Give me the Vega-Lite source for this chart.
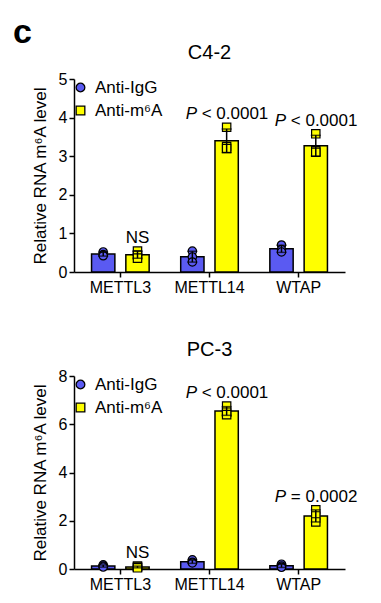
{
  "$schema": "https://vega.github.io/schema/vega-lite/v6.json",
  "background": "white",
  "padding": {"left": 13, "top": 16, "right": 5, "bottom": 5},
  "title": {"text": "c", "anchor": "start", "fontSize": 34, "fontWeight": "bold", "dx": -18, "offset": -7, "color": "black"},
  "datasets": {
    "replicates": [
      {"cell": "C4-2", "gene": "METTL3", "antibody": "Anti-IgG", "value": 0.52},
      {"cell": "C4-2", "gene": "METTL3", "antibody": "Anti-IgG", "value": 0.45},
      {"cell": "C4-2", "gene": "METTL3", "antibody": "Anti-IgG", "value": 0.42},
      {"cell": "C4-2", "gene": "METTL3", "antibody": "Anti-m⁶A", "value": 0.54},
      {"cell": "C4-2", "gene": "METTL3", "antibody": "Anti-m⁶A", "value": 0.44},
      {"cell": "C4-2", "gene": "METTL3", "antibody": "Anti-m⁶A", "value": 0.36},
      {"cell": "C4-2", "gene": "METTL14", "antibody": "Anti-IgG", "value": 0.54},
      {"cell": "C4-2", "gene": "METTL14", "antibody": "Anti-IgG", "value": 0.39},
      {"cell": "C4-2", "gene": "METTL14", "antibody": "Anti-IgG", "value": 0.26},
      {"cell": "C4-2", "gene": "METTL14", "antibody": "Anti-m⁶A", "value": 3.75},
      {"cell": "C4-2", "gene": "METTL14", "antibody": "Anti-m⁶A", "value": 3.25},
      {"cell": "C4-2", "gene": "METTL14", "antibody": "Anti-m⁶A", "value": 3.2},
      {"cell": "C4-2", "gene": "WTAP", "antibody": "Anti-IgG", "value": 0.7},
      {"cell": "C4-2", "gene": "WTAP", "antibody": "Anti-IgG", "value": 0.58},
      {"cell": "C4-2", "gene": "WTAP", "antibody": "Anti-IgG", "value": 0.52},
      {"cell": "C4-2", "gene": "WTAP", "antibody": "Anti-m⁶A", "value": 3.58},
      {"cell": "C4-2", "gene": "WTAP", "antibody": "Anti-m⁶A", "value": 3.14},
      {"cell": "C4-2", "gene": "WTAP", "antibody": "Anti-m⁶A", "value": 3.1},
      {"cell": "PC-3", "gene": "METTL3", "antibody": "Anti-IgG", "value": 0.17},
      {"cell": "PC-3", "gene": "METTL3", "antibody": "Anti-IgG", "value": 0.12},
      {"cell": "PC-3", "gene": "METTL3", "antibody": "Anti-IgG", "value": 0.08},
      {"cell": "PC-3", "gene": "METTL3", "antibody": "Anti-m⁶A", "value": 0.12},
      {"cell": "PC-3", "gene": "METTL3", "antibody": "Anti-m⁶A", "value": 0.08},
      {"cell": "PC-3", "gene": "METTL3", "antibody": "Anti-m⁶A", "value": 0.05},
      {"cell": "PC-3", "gene": "METTL14", "antibody": "Anti-IgG", "value": 0.38},
      {"cell": "PC-3", "gene": "METTL14", "antibody": "Anti-IgG", "value": 0.28},
      {"cell": "PC-3", "gene": "METTL14", "antibody": "Anti-IgG", "value": 0.25},
      {"cell": "PC-3", "gene": "METTL14", "antibody": "Anti-m⁶A", "value": 6.75},
      {"cell": "PC-3", "gene": "METTL14", "antibody": "Anti-m⁶A", "value": 6.5},
      {"cell": "PC-3", "gene": "METTL14", "antibody": "Anti-m⁶A", "value": 6.4},
      {"cell": "PC-3", "gene": "WTAP", "antibody": "Anti-IgG", "value": 0.2},
      {"cell": "PC-3", "gene": "WTAP", "antibody": "Anti-IgG", "value": 0.12},
      {"cell": "PC-3", "gene": "WTAP", "antibody": "Anti-IgG", "value": 0.07},
      {"cell": "PC-3", "gene": "WTAP", "antibody": "Anti-m⁶A", "value": 2.45},
      {"cell": "PC-3", "gene": "WTAP", "antibody": "Anti-m⁶A", "value": 2.2},
      {"cell": "PC-3", "gene": "WTAP", "antibody": "Anti-m⁶A", "value": 1.95}
    ],
    "significance_c42": [
      {"gene": "METTL3", "head": "", "tail": "NS"},
      {"gene": "METTL14", "head": "P", "tail": "< 0.0001"},
      {"gene": "WTAP", "head": "P", "tail": "< 0.0001"}
    ],
    "significance_pc3": [
      {"gene": "METTL3", "head": "", "tail": "NS"},
      {"gene": "METTL14", "head": "P", "tail": "< 0.0001"},
      {"gene": "WTAP", "head": "P", "tail": "= 0.0002"}
    ]
  },
  "spacing": 45,
  "resolve": {
    "scale": {"fill": "independent", "shape": "independent"},
    "legend": {"fill": "independent", "shape": "independent"}
  },
  "vconcat": [
    {
      "width": 271,
      "height": 193,
      "title": "C4-2",
      "data": {"name": "replicates"},
      "transform": [{"filter": "datum.cell == 'C4-2'"}],
      "encoding": {
        "x": {"field": "gene", "type": "nominal", "sort": ["METTL3", "METTL14", "WTAP"],
              "scale": {"paddingInner": 0.2, "paddingOuter": 0.12},
              "axis": {"title": null, "labelAngle": 0, "labelPadding": 2}},
        "xOffset": {"field": "antibody", "type": "nominal", "sort": ["Anti-IgG", "Anti-m⁶A"],
                    "scale": {"paddingInner": 0.32, "paddingOuter": 0.2}}
      },
      "layer": [
        {
          "mark": {"type": "bar", "stroke": "black", "strokeWidth": 1.5},
          "encoding": {
            "y": {"aggregate": "mean", "field": "value", "type": "quantitative",
                  "scale": {"domain": [0, 5], "nice": false},
                  "axis": {"title": "Relative RNA m⁶A level", "values": [0, 1, 2, 3, 4, 5], "labelOverlap": false, "titlePadding": 9, "labelPadding": 2}},
            "fill": {"field": "antibody", "type": "nominal",
                     "scale": {"domain": ["Anti-IgG", "Anti-m⁶A"], "range": ["#5a5af2", "#ffff00"]},
                     "legend": {"title": null, "orient": "none", "legendX": -2, "legendY": 0,
                                "encode": {"symbols": {"update": {"stroke": {"value": "black"}, "strokeWidth": {"value": 1.3}}}}}}
          }
        },
        {
          "mark": {"type": "point", "filled": true, "stroke": "black", "strokeWidth": 1.2, "size": 70, "opacity": 1},
          "encoding": {
            "y": {"field": "value", "type": "quantitative",
                  "axis": {"title": "Relative RNA m⁶A level", "values": [0, 1, 2, 3, 4, 5], "labelOverlap": false, "titlePadding": 9, "labelPadding": 2}},
            "shape": {"field": "antibody", "type": "nominal",
                      "scale": {"domain": ["Anti-IgG", "Anti-m⁶A"], "range": ["circle", "square"]},
                      "legend": {"title": null, "orient": "none", "legendX": -2, "legendY": 0,
                                 "encode": {"symbols": {"update": {"stroke": {"value": "black"}, "strokeWidth": {"value": 1.3}}}}}},
            "fill": {"field": "antibody", "type": "nominal",
                     "legend": {"title": null, "orient": "none", "legendX": -2, "legendY": 0,
                                "encode": {"symbols": {"update": {"stroke": {"value": "black"}, "strokeWidth": {"value": 1.3}}}}}}
          }
        },
        {
          "transform": [
            {"aggregate": [{"op": "mean", "field": "value", "as": "mean"}, {"op": "stdev", "field": "value", "as": "sd"}],
             "groupby": ["gene", "antibody"]},
            {"calculate": "datum.mean - datum.sd", "as": "lo"},
            {"calculate": "datum.mean + datum.sd", "as": "hi"}
          ],
          "layer": [
            {"mark": {"type": "rule", "color": "black", "strokeWidth": 1.5},
             "encoding": {"y": {"field": "lo", "type": "quantitative",
                                "axis": {"title": "Relative RNA m⁶A level", "values": [0, 1, 2, 3, 4, 5], "labelOverlap": false, "titlePadding": 9, "labelPadding": 2}},
                          "y2": {"field": "hi"}}},
            {"mark": {"type": "tick", "color": "black", "size": 10, "thickness": 1.5},
             "encoding": {"y": {"field": "lo", "type": "quantitative",
                                "axis": {"title": "Relative RNA m⁶A level", "values": [0, 1, 2, 3, 4, 5], "labelOverlap": false, "titlePadding": 9, "labelPadding": 2}}}},
            {"mark": {"type": "tick", "color": "black", "size": 10, "thickness": 1.5},
             "encoding": {"y": {"field": "hi", "type": "quantitative",
                                "axis": {"title": "Relative RNA m⁶A level", "values": [0, 1, 2, 3, 4, 5], "labelOverlap": false, "titlePadding": 9, "labelPadding": 2}}}}
          ]
        },
        {
          "transform": [
            {"filter": "datum.antibody == 'Anti-m⁶A'"},
            {"aggregate": [{"op": "max", "field": "value", "as": "top"}], "groupby": ["gene", "antibody"]},
            {"lookup": "gene", "from": {"data": {"name": "significance_c42"}, "key": "gene", "fields": ["head", "tail"]}}
          ],
          "encoding": {"y": {"field": "top", "type": "quantitative",
                             "axis": {"title": "Relative RNA m⁶A level", "values": [0, 1, 2, 3, 4, 5], "labelOverlap": false, "titlePadding": 9, "labelPadding": 2}}},
          "layer": [
            {"transform": [{"filter": "datum.head != ''"}],
             "mark": {"type": "text", "fontSize": 17, "fontStyle": "italic", "align": "left", "dx": -41, "dy": -13, "color": "black"},
             "encoding": {"text": {"field": "head"}}},
            {"transform": [{"filter": "datum.head != ''"}],
             "mark": {"type": "text", "fontSize": 17, "align": "left", "dx": -25, "dy": -13, "color": "black"},
             "encoding": {"text": {"field": "tail"}}},
            {"transform": [{"filter": "datum.head == ''"}],
             "mark": {"type": "text", "fontSize": 17, "align": "center", "dy": -13, "color": "black"},
             "encoding": {"text": {"field": "tail"}}}
          ]
        }
      ]
    },
    {
      "width": 271,
      "height": 193,
      "title": "PC-3",
      "data": {"name": "replicates"},
      "transform": [{"filter": "datum.cell == 'PC-3'"}],
      "encoding": {
        "x": {"field": "gene", "type": "nominal", "sort": ["METTL3", "METTL14", "WTAP"],
              "scale": {"paddingInner": 0.2, "paddingOuter": 0.12},
              "axis": {"title": null, "labelAngle": 0, "labelPadding": 2}},
        "xOffset": {"field": "antibody", "type": "nominal", "sort": ["Anti-IgG", "Anti-m⁶A"],
                    "scale": {"paddingInner": 0.32, "paddingOuter": 0.2}}
      },
      "layer": [
        {
          "mark": {"type": "bar", "stroke": "black", "strokeWidth": 1.5},
          "encoding": {
            "y": {"aggregate": "mean", "field": "value", "type": "quantitative",
                  "scale": {"domain": [0, 8], "nice": false},
                  "axis": {"title": "Relative RNA m⁶A level", "values": [0, 2, 4, 6, 8], "labelOverlap": false, "titlePadding": 9, "labelPadding": 2}},
            "fill": {"field": "antibody", "type": "nominal",
                     "scale": {"domain": ["Anti-IgG", "Anti-m⁶A"], "range": ["#5a5af2", "#ffff00"]},
                     "legend": {"title": null, "orient": "none", "legendX": -2, "legendY": 0,
                                "encode": {"symbols": {"update": {"stroke": {"value": "black"}, "strokeWidth": {"value": 1.3}}}}}}
          }
        },
        {
          "mark": {"type": "point", "filled": true, "stroke": "black", "strokeWidth": 1.2, "size": 70, "opacity": 1},
          "encoding": {
            "y": {"field": "value", "type": "quantitative",
                  "axis": {"title": "Relative RNA m⁶A level", "values": [0, 2, 4, 6, 8], "labelOverlap": false, "titlePadding": 9, "labelPadding": 2}},
            "shape": {"field": "antibody", "type": "nominal",
                      "scale": {"domain": ["Anti-IgG", "Anti-m⁶A"], "range": ["circle", "square"]},
                      "legend": {"title": null, "orient": "none", "legendX": -2, "legendY": 0,
                                 "encode": {"symbols": {"update": {"stroke": {"value": "black"}, "strokeWidth": {"value": 1.3}}}}}},
            "fill": {"field": "antibody", "type": "nominal",
                     "legend": {"title": null, "orient": "none", "legendX": -2, "legendY": 0,
                                "encode": {"symbols": {"update": {"stroke": {"value": "black"}, "strokeWidth": {"value": 1.3}}}}}}
          }
        },
        {
          "transform": [
            {"aggregate": [{"op": "mean", "field": "value", "as": "mean"}, {"op": "stdev", "field": "value", "as": "sd"}],
             "groupby": ["gene", "antibody"]},
            {"calculate": "datum.mean - datum.sd", "as": "lo"},
            {"calculate": "datum.mean + datum.sd", "as": "hi"}
          ],
          "layer": [
            {"mark": {"type": "rule", "color": "black", "strokeWidth": 1.5},
             "encoding": {"y": {"field": "lo", "type": "quantitative",
                                "axis": {"title": "Relative RNA m⁶A level", "values": [0, 2, 4, 6, 8], "labelOverlap": false, "titlePadding": 9, "labelPadding": 2}},
                          "y2": {"field": "hi"}}},
            {"mark": {"type": "tick", "color": "black", "size": 10, "thickness": 1.5},
             "encoding": {"y": {"field": "lo", "type": "quantitative",
                                "axis": {"title": "Relative RNA m⁶A level", "values": [0, 2, 4, 6, 8], "labelOverlap": false, "titlePadding": 9, "labelPadding": 2}}}},
            {"mark": {"type": "tick", "color": "black", "size": 10, "thickness": 1.5},
             "encoding": {"y": {"field": "hi", "type": "quantitative",
                                "axis": {"title": "Relative RNA m⁶A level", "values": [0, 2, 4, 6, 8], "labelOverlap": false, "titlePadding": 9, "labelPadding": 2}}}}
          ]
        },
        {
          "transform": [
            {"filter": "datum.antibody == 'Anti-m⁶A'"},
            {"aggregate": [{"op": "max", "field": "value", "as": "top"}], "groupby": ["gene", "antibody"]},
            {"lookup": "gene", "from": {"data": {"name": "significance_pc3"}, "key": "gene", "fields": ["head", "tail"]}}
          ],
          "encoding": {"y": {"field": "top", "type": "quantitative",
                             "axis": {"title": "Relative RNA m⁶A level", "values": [0, 2, 4, 6, 8], "labelOverlap": false, "titlePadding": 9, "labelPadding": 2}}},
          "layer": [
            {"transform": [{"filter": "datum.head != ''"}],
             "mark": {"type": "text", "fontSize": 17, "fontStyle": "italic", "align": "left", "dx": -41, "dy": -13, "color": "black"},
             "encoding": {"text": {"field": "head"}}},
            {"transform": [{"filter": "datum.head != ''"}],
             "mark": {"type": "text", "fontSize": 17, "align": "left", "dx": -25, "dy": -13, "color": "black"},
             "encoding": {"text": {"field": "tail"}}},
            {"transform": [{"filter": "datum.head == ''"}],
             "mark": {"type": "text", "fontSize": 17, "align": "center", "dy": -13, "color": "black"},
             "encoding": {"text": {"field": "tail"}}}
          ]
        }
      ]
    }
  ],
  "config": {
    "font": "Liberation Sans",
    "view": {"stroke": null},
    "axis": {"domainColor": "black", "domainWidth": 1.5, "tickColor": "black", "tickWidth": 1.5, "tickSize": 5,
             "labelColor": "black", "labelFontSize": 16, "titleColor": "black", "titleFontSize": 17,
             "titleFontWeight": "normal", "grid": false},
    "title": {"fontSize": 20, "fontWeight": "normal", "color": "black", "offset": 8},
    "legend": {"labelFontSize": 17, "labelColor": "black", "symbolSize": 75, "symbolStrokeColor": "black",
               "symbolStrokeWidth": 1.3, "symbolOpacity": 1, "labelOffset": 6, "rowPadding": 5, "padding": 0}
  }
}
